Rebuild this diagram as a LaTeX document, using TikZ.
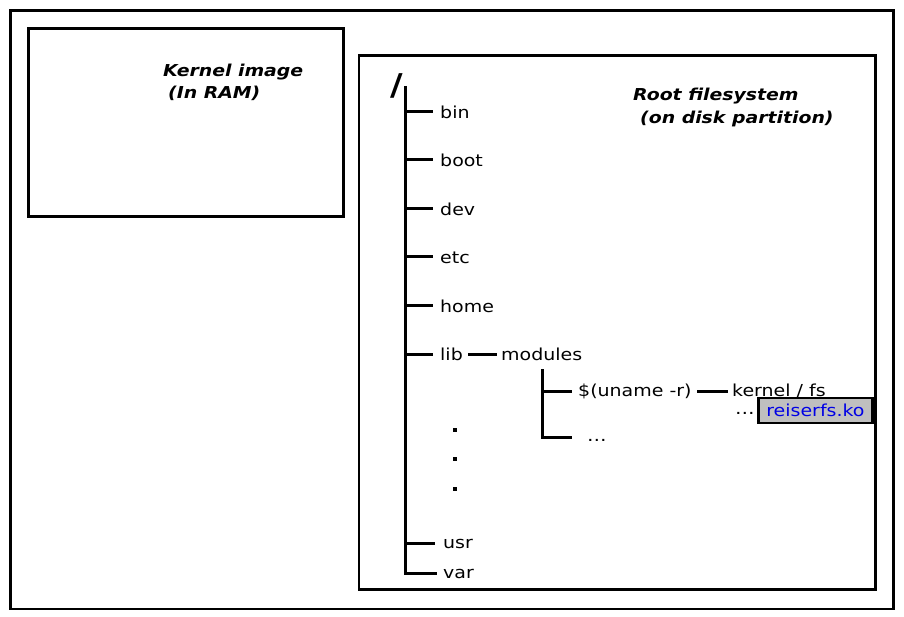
\documentclass[tikz,border=0pt]{standalone}
\usepackage{fontspec}
\setmainfont{DejaVu Sans}[FakeStretch=1.15]
\begin{document}
\begin{tikzpicture}[x=1pt,y=-1pt,
  txt/.style={anchor=base west,inner sep=0pt,font=\fontsize{16.5}{19}\selectfont},
  ttl/.style={anchor=base west,inner sep=0pt,font=\fontsize{16.4}{19}\selectfont\bfseries\itshape},
  tree/.style={line width=3pt},
  frame/.style={line width=2.5pt},
  vdot/.style={fill=black,minimum size=4.5pt,inner sep=0pt,draw=none}]
\useasboundingbox (0,0) rectangle (904,617);
% frames
\draw[frame] (10.5,10.5) rectangle (893.5,609);
\draw[frame] (28.5,28.5) rectangle (343.5,216.5);
\draw[frame,line width=2.8pt] (359,55.5) rectangle (875.5,589.5);
% titles
\node[ttl] (k1) at (163,77) {Kernel image};
\node[ttl] (k2) at (168,99) {(In RAM)};
\node[ttl] (r1) at (633,101) {Root filesystem};
\node[ttl] (r2) at (640,124) {(on disk partition)};
% root slash
\node[anchor=base west,inner sep=0pt,font=\fontsize{30}{34}\selectfont\bfseries] (root) at (390,96) {/};
% trunk
\coordinate (ttop) at (405,86);
\coordinate (tbot) at (405,573);
\draw[tree] (ttop) -- (tbot);
% branches
\foreach \n/\y/\t in {bin/112/bin,boot/160/boot,dev/209/dev,etc/257/etc,home/306/home,lib/354/lib}{
  \coordinate (b\n) at (405,\y);
  \coordinate (e\n) at (433,\y);
  \draw[tree] (b\n) -- (e\n);
  \node[txt] (\n) at (440,\y+6.5) {\t};
}
\coordinate (busr) at (405,543);
\coordinate (eusr) at (435,543);
\draw[tree] (busr) -- (eusr);
\node[txt] (usr) at (443,548.5) {usr};
\coordinate (evar) at (435,573);
\draw[tree,line cap=rect] (tbot) -- (evar);
\node[txt] (var) at (443,578.5) {var};
% vertical dots
\node[vdot] (d1) at (455,430) {};
\node[vdot] (d2) at (455,459) {};
\node[vdot] (d3) at (455,489) {};
% lib -> modules
\node[txt] (modules) at (501,360.5) {modules};
\draw[tree] (468,354) -- (497,354);
% modules subtree
\coordinate (mtop) at (542,369);
\coordinate (mbot) at (542,437);
\draw[tree] (mtop) -- (mbot) -- (572,437);
\draw[tree] (542,391) -- (572,391);
\node[txt] (uname) at (578,396.5) {\$(uname -r)};
\node[txt,font=\fontsize{17}{18}\selectfont] (mdots) at (587,441) {…};
\draw[tree] (697,391) coordinate (ua) -- (728,391) coordinate (ub);
\node[txt] (kfs) at (732,396.5) {kernel / fs};
\node[txt,font=\fontsize{17}{18}\selectfont] (kdots) at (735,414) {…};
\node[anchor=west,draw=black,line width=2.8pt,fill=black!25,text=blue!90!black,
      font=\fontsize{16.5}{19}\selectfont,inner xsep=4pt,inner ysep=0pt,
      minimum height=25pt,minimum width=114pt] (reiser) at (757,410.5) {reiserfs.ko};
\end{tikzpicture}
\end{document}
